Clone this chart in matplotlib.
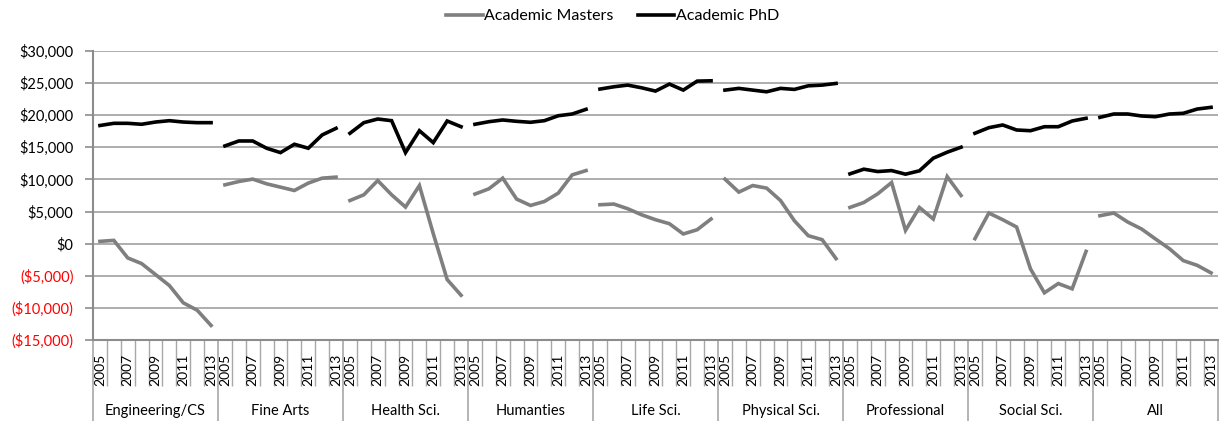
import matplotlib
matplotlib.use("Agg")
import matplotlib.pyplot as plt
from matplotlib.transforms import blended_transform_factory

plt.rcParams['font.family'] = ['Lato', 'DejaVu Sans']

years = [2005, 2006, 2007, 2008, 2009, 2010, 2011, 2012, 2013]
groups = ["Engineering/CS", "Fine Arts", "Health Sci.", "Humanties", "Life Sci.",
          "Physical Sci.", "Professional", "Social Sci.", "All"]

masters_eng = [360, 510, -2220, -3100, -4810, -6520, -9210, -10360, -12730]
masters_fine = [9160, 9680, 10050, 9320, 8800, 8280, 9430, 10200, 10360]
masters_health = [6720, 7610, 9830, 7610, 5700, 9050, 1550, -5590, -8030]
masters_hum = [7720, 8540, 10200, 6940, 5950, 6570, 7870, 10710, 11380]
masters_life = [6060, 6170, 5440, 4500, 3730, 3110, 1510, 2170, 3840]
masters_phys = [10050, 8030, 9050, 8650, 6720, 3570, 1240, 620, -2330]
masters_prof = [5640, 6410, 7760, 9520, 2070, 5640, 3840, 10450, 7500]
masters_soc = [780, 4770, 3730, 2590, -3930, -7650, -6210, -7030, -1200]
masters_all = [4350, 4770, 3370, 2280, 730, -780, -2640, -3370, -4550]

phd_eng = [18400, 18740, 18740, 18590, 18940, 19150, 18940, 18840, 18840]
phd_fine = [15220, 15990, 15990, 14860, 14180, 15480, 14860, 16930, 17960]
phd_health = [17190, 18840, 19410, 19150, 14180, 17590, 15730, 19100, 18210]
phd_hum = [18590, 18990, 19260, 19050, 18900, 19150, 19920, 20190, 20920]
phd_life = [24070, 24430, 24690, 24270, 23760, 24850, 23910, 25310, 25360]
phd_phys = [23910, 24180, 23910, 23650, 24180, 24020, 24580, 24690, 24950]
phd_prof = [10870, 11600, 11230, 11380, 10820, 11340, 13310, 14240, 15020]
phd_soc = [17190, 18060, 18480, 17700, 17590, 18210, 18210, 19100, 19520]
phd_all = [19670, 20190, 20190, 19880, 19770, 20190, 20300, 20960, 21230]

masters = [masters_eng, masters_fine, masters_health, masters_hum, masters_life,
           masters_phys, masters_prof, masters_soc, masters_all]
phd = [phd_eng, phd_fine, phd_health, phd_hum, phd_life,
       phd_phys, phd_prof, phd_soc, phd_all]

yticks = [-15000, -10000, -5000, 0, 5000, 10000, 15000, 20000, 25000, 30000]

def money(v):
    if v < 0:
        return "(${:,})".format(-v)
    return "${:,}".format(v)

fig = plt.figure(figsize=(12.25, 4.24), dpi=100)
ax = fig.add_axes([93/1225, 1 - 340/424, (1218 - 93)/1225, (340 - 51)/424])

ny = len(years)
ng = len(groups)
grey = "#7f7f7f"
for g in range(ng):
    xs = [g * ny + j for j in range(ny)]
    ax.plot(xs, masters[g], color=grey, lw=2.6, solid_joinstyle='miter',
            label="Academic Masters" if g == 0 else None)
    ax.plot(xs, phd[g], color="black", lw=2.6, solid_joinstyle='miter',
            label="Academic PhD" if g == 0 else None)

ax.set_xlim(-0.5, ng * ny - 0.5)
ax.set_ylim(-15000, 30000)

ax.set_yticks(yticks, [money(v) for v in yticks])
for t, v in zip(ax.get_yticklabels(), yticks):
    t.set_color("#ff0000" if v < 0 else "black")
    t.set_fontsize(10.5)
ax.yaxis.grid(True, color="#a0a0a0", lw=1.2)
ax.set_axisbelow(True)
ax.tick_params(axis='y', length=6, width=1.2, color="#8c8c8c", pad=8)

for s in ["top", "right"]:
    ax.spines[s].set_visible(False)
ax.spines["left"].set_color("#8c8c8c")
ax.spines["left"].set_linewidth(1.5)
ax.spines["bottom"].set_color("#8c8c8c")
ax.spines["bottom"].set_linewidth(1.5)

# x ticks: minor at category boundaries, major at group boundaries
ax.set_xticks([g * ny - 0.5 for g in range(ng + 1)])
ax.set_xticks([i - 0.5 for i in range(ng * ny + 1) if i % ny != 0], minor=True)
ax.set_xticklabels([])
ax.tick_params(axis='x', which='major', length=58, width=1.2, color="#a8a8a8", direction='out')
ax.tick_params(axis='x', which='minor', length=33, width=1.0, color="#a8a8a8", direction='out')

trans = blended_transform_factory(ax.transData, ax.transAxes)
for g in range(ng):
    for j, yr in enumerate(years):
        if j % 2 == 0:
            ax.text(g * ny + j, -0.047, str(yr), rotation=90, ha='center', va='top',
                    fontsize=10, transform=trans)
    ax.text(g * ny + (ny - 1) / 2, -0.246, groups[g], ha='center', va='center',
            fontsize=10.5, transform=trans)

fig.legend(loc='upper center', bbox_to_anchor=(0.5, 1.012), ncol=2, frameon=False,
           fontsize=11.5, handlelength=2.3, columnspacing=1.5, handletextpad=0.1)

fig.savefig("out.png", dpi=100)
